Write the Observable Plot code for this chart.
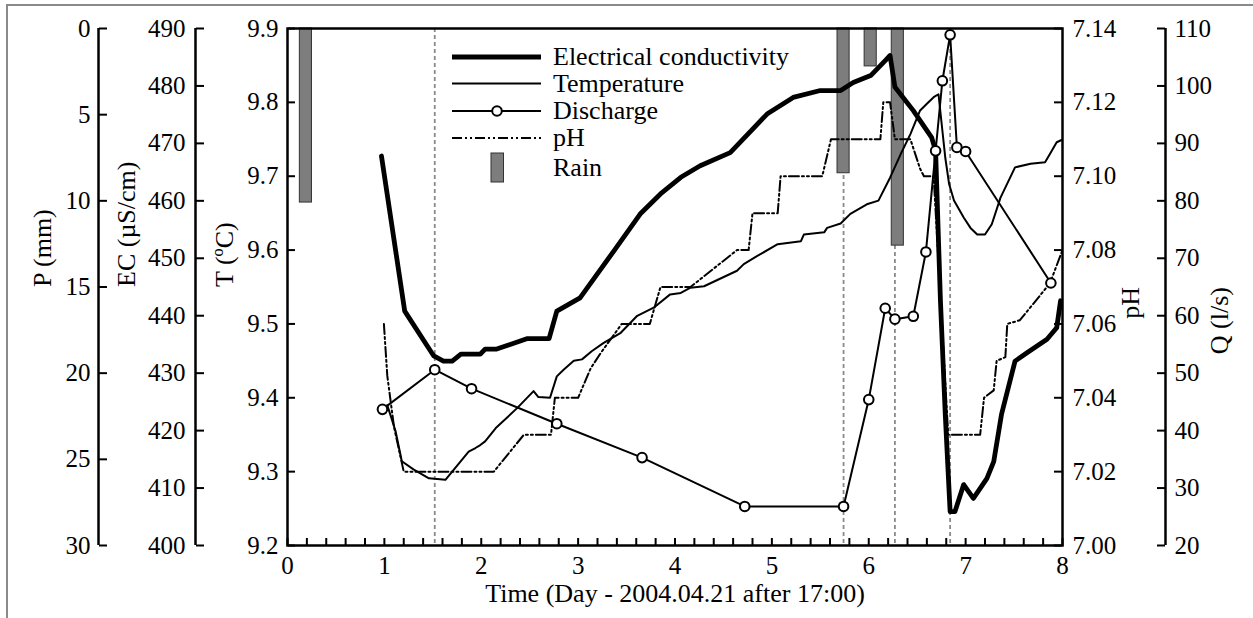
<!DOCTYPE html>
<html><head><meta charset="utf-8">
<script src="https://cdn.jsdelivr.net/npm/d3@7"></script>
<script src="https://cdn.jsdelivr.net/npm/@observablehq/plot@0.6"></script>
<style>
body{margin:0;background:#fff;overflow:hidden;}
#chart svg, #chart svg text{font-family:'Liberation Serif','Times New Roman',Times,serif !important;}
</style></head><body><div id="chart"></div>
<script>
// ---------- data ----------
const ecDays = [0.97,1.21,1.51,1.61,1.70,1.79,1.99,2.04,2.16,2.47,2.70,2.78,3.02,3.37,3.64,3.85,4.06,4.26,4.57,4.95,5.22,5.50,5.71,5.84,6.02,6.17,6.22,6.27,6.46,6.65,6.69,6.74,6.79,6.84,6.89,6.98,7.08,7.22,7.29,7.37,7.51,7.63,7.84,7.94,7.98];
const ecValues = [467.8,440.8,433.0,432.1,432.1,433.3,433.3,434.2,434.2,436.0,436.0,440.8,443.1,451.3,457.7,461.2,464.1,466.1,468.4,475.1,478.0,479.2,479.2,480.6,481.8,484.4,485.3,479.8,475.7,471.0,468.7,442.6,422.8,405.9,405.9,410.6,408.2,411.7,414.6,422.8,432.1,433.5,435.9,437.9,442.6];

const tDays = [1.03,1.115,1.18,1.30,1.46,1.63,1.87,1.94,1.99,2.04,2.15,2.37,2.54,2.59,2.71,2.78,2.85,2.955,3.04,3.14,3.26,3.44,3.61,3.78,3.95,4.06,4.16,4.30,4.64,4.71,4.85,5.06,5.30,5.33,5.54,5.57,5.71,5.81,5.98,6.10,6.22,6.33,6.43,6.53,6.60,6.67,6.72,6.79,6.83,6.88,6.98,7.05,7.12,7.20,7.27,7.36,7.51,7.67,7.82,7.87,7.94,7.99];
const tValues = [9.39,9.355,9.314,9.303,9.291,9.289,9.327,9.332,9.336,9.341,9.359,9.386,9.409,9.401,9.40,9.429,9.438,9.45,9.452,9.463,9.474,9.488,9.511,9.522,9.54,9.542,9.549,9.551,9.572,9.581,9.592,9.608,9.612,9.621,9.624,9.63,9.636,9.649,9.662,9.667,9.698,9.730,9.757,9.789,9.798,9.807,9.811,9.725,9.689,9.667,9.644,9.630,9.621,9.621,9.635,9.671,9.712,9.717,9.719,9.730,9.746,9.749];

const qDays = [0.98,1.52,1.90,2.78,3.66,4.72,5.74,6.00,6.17,6.27,6.46,6.59,6.69,6.76,6.84,6.91,7.00,7.88];
const qValues = [43.7,50.6,47.3,41.2,35.3,26.8,26.8,45.4,61.3,59.4,59.9,71.1,88.7,100.9,108.9,89.3,88.6,65.7];

const phDays = [0.995,1.03,1.10,1.20,2.13,2.44,2.72,2.76,3.00,3.13,3.23,3.45,3.74,3.85,4.16,4.64,4.76,4.80,5.06,5.09,5.52,5.61,6.12,6.15,6.22,6.27,6.43,6.53,6.57,6.67,6.82,7.15,7.19,7.29,7.32,7.41,7.43,7.56,7.87,8.0];
const phValues = [7.060,7.046,7.032,7.020,7.020,7.030,7.030,7.040,7.040,7.048,7.052,7.060,7.060,7.070,7.070,7.080,7.080,7.090,7.090,7.100,7.100,7.110,7.110,7.120,7.120,7.110,7.110,7.102,7.100,7.100,7.030,7.030,7.040,7.042,7.050,7.051,7.060,7.061,7.071,7.080];

const rainDays = [0.19,5.74,6.02,6.30];
const rainValues = [10.1,8.4,2.2,12.6];
const rainWidth = 0.125;

const eventDays = [1.52,5.74,6.27,6.84];

const tTicks = [9.2,9.3,9.4,9.5,9.6,9.7,9.8,9.9];
const ecTicks = [400,410,420,430,440,450,460,470,480,490];
const pTicks = [0,5,10,15,20,25,30];
const phTicks = [7.00,7.02,7.04,7.06,7.08,7.10,7.12,7.14];
const qTicks = [20,30,40,50,60,70,80,90,100,110];
const dayTicks = [0,1,2,3,4,5,6,7,8];
const dayMinorTicks = d3.range(0, 41).map(i => i / 5);

const legendItems = ["Electrical conductivity","Temperature","Discharge","pH","Rain"];

// ---------- mapping of secondary scales onto the temperature scale ----------
const ecToT = d3.scaleLinear([400, 490], [9.2, 9.9]);
const phToT = d3.scaleLinear([7.0, 7.14], [9.2, 9.9]);
const qToT = d3.scaleLinear([20, 110], [9.2, 9.9]);
const pToT = d3.scaleLinear([0, 30], [9.9, 9.2]);

const ec = ecDays.map((d, i) => ({day: d, v: ecToT(ecValues[i])}));
const temp = tDays.map((d, i) => ({day: d, v: tValues[i]}));
const q = qDays.map((d, i) => ({day: d, v: qToT(qValues[i])}));
const ph = phDays.map((d, i) => ({day: d, v: phToT(phValues[i])}));
const rain = rainDays.map((d, i) => ({day: d, p: rainValues[i]}));

const W = 1253, H = 618;
const mL = 287, mR = 191, mT = 28, mB = 73;
const plotW = W - mL - mR;
const FONT = "'Liberation Serif','Times New Roman',Times,serif";
const TICK_FS = 25, LABEL_FS = 26;

function tickAxis(vals, anchor, dx, len) {
  return Plot.axisY(vals, {anchor, dx, tickSize: len, tickFormat: () => "", label: null, strokeWidth: 2});
}
function textAxis(vals, anchor, dx, pad, fmt) {
  return Plot.axisY(vals, {anchor, dx, tickSize: 0, tickPadding: pad, tickFormat: fmt, label: null, fontSize: TICK_FS, fontFamily: FONT});
}

const svg = Plot.plot({
  width: W, height: H,
  marginLeft: mL, marginRight: mR, marginTop: mT, marginBottom: mB,
  style: {fontFamily: FONT, fontSize: TICK_FS + "px", background: "transparent", overflow: "visible"},
  x: {domain: [0, 8]},
  y: {domain: [9.2, 9.9]},
  marks: [
    // event lines
    Plot.ruleX(eventDays, {stroke: "#8a8a8a", strokeWidth: 1.8, strokeDasharray: "4,3"}),
    // rain bars (hanging from top)
    Plot.rectY(rain, {x1: d => d.day - rainWidth / 2, x2: d => d.day + rainWidth / 2, y1: pToT(0), y2: d => pToT(d.p), fill: "#7d7d7d", stroke: "#333", strokeWidth: 1}),
    // series
    Plot.line(temp, {x: "day", y: "v", stroke: "#000", strokeWidth: 2}),
    Plot.line(ph, {x: "day", y: "v", stroke: "#000", strokeWidth: 2, strokeDasharray: "10,3,2,3,2,3"}),
    Plot.line(q, {x: "day", y: "v", stroke: "#000", strokeWidth: 2}),
    Plot.line(ec, {x: "day", y: "v", stroke: "#000", strokeWidth: 4.8, strokeLinejoin: "round"}),
    Plot.dot(q, {x: "day", y: "v", r: 4.8, fill: "#fff", stroke: "#000", strokeWidth: 2}),
    // frame (T axis left, pH axis right)
    Plot.frame({stroke: "#000", strokeWidth: 2.5}),
    // extra axis lines
    Plot.ruleX([0], {y1: 9.2, y2: 9.9, dx: 98 - mL, strokeWidth: 2.5}),
    Plot.ruleX([0], {y1: 9.2, y2: 9.9, dx: 195 - mL, strokeWidth: 2.5}),
    Plot.ruleX([8], {y1: 9.2, y2: 9.9, dx: 1165 - (mL + plotW), strokeWidth: 2.5}),
    // P axis
    tickAxis(pTicks.map(pToT), "right", 98 - (mL + plotW), 8),
    textAxis(pTicks.map(pToT), "left", 98 - mL, 8, d => String(Math.round(pToT.invert(d)))),
    // EC axis
    tickAxis(ecTicks.map(ecToT), "right", 195 - (mL + plotW), 8),
    textAxis(ecTicks.map(ecToT), "left", 195 - mL, 10, d => String(Math.round(ecToT.invert(d)))),
    // T axis
    tickAxis(tTicks, "right", -plotW, 7),
    textAxis(tTicks, "left", 0, 9, d => d.toFixed(1)),
    // pH axis
    tickAxis(phTicks.map(phToT), "left", plotW, 8),
    textAxis(phTicks.map(phToT), "right", 0, 10, d => phToT.invert(d).toFixed(2)),
    // Q axis
    tickAxis(qTicks.map(qToT), "left", 1165 - mL, 8),
    textAxis(qTicks.map(qToT), "right", 1165 - (mL + plotW), 9, d => String(Math.round(qToT.invert(d)))),
    // x axis
    Plot.axisX(dayMinorTicks, {anchor: "top", dy: H - mT - mB, tickSize: 8, tickFormat: () => "", label: null, strokeWidth: 2}),
    Plot.axisX(dayTicks, {anchor: "bottom", tickSize: 0, tickPadding: 11, tickFormat: d => String(d), label: null, fontSize: TICK_FS, fontFamily: FONT}),
    // axis titles
    Plot.text(["P (mm)"], {frameAnchor: "left", dx: 42.5 - mL, rotate: -90, fontSize: LABEL_FS, fontFamily: FONT}),
    Plot.text(["EC (µS/cm)"], {frameAnchor: "left", dx: 126 - mL, rotate: -90, fontSize: LABEL_FS, fontFamily: FONT}),
    Plot.text(["T (ºC)"], {frameAnchor: "left", dx: 224 - mL, rotate: -90, fontSize: LABEL_FS, fontFamily: FONT}),
    Plot.text(["pH"], {frameAnchor: "right", dx: 1130.5 - (mL + plotW), rotate: -90, fontSize: LABEL_FS, fontFamily: FONT}),
    Plot.text(["Q (l/s)"], {frameAnchor: "right", dx: 1219 - (mL + plotW), rotate: -90, fontSize: LABEL_FS, fontFamily: FONT}),
    Plot.text(["Time (Day - 2004.04.21 after 17:00)"], {frameAnchor: "bottom", dy: 56, lineAnchor: "bottom", fontSize: LABEL_FS, fontFamily: FONT})
  ]
});

// outer gray border (top and left edges visible)
const s = d3.select(svg);
s.insert("path", ":first-child")
  .attr("d", "M7,618V5H1253")
  .attr("fill", "none").attr("stroke", "#8a8a8a").attr("stroke-width", 2);

// legend
const lg = s.append("g").attr("font-family", FONT).attr("font-size", LABEL_FS).attr("fill", "#000").attr("text-anchor", "start");
const rows = [57, 83.5, 111, 138, 167.5];
const x0 = 452, x1 = 541, tx = 553;
lg.append("line").attr("x1", x0).attr("x2", x1).attr("y1", rows[0]).attr("y2", rows[0]).attr("stroke", "#000").attr("stroke-width", 4.8);
lg.append("line").attr("x1", x0).attr("x2", x1).attr("y1", rows[1]).attr("y2", rows[1]).attr("stroke", "#000").attr("stroke-width", 2);
lg.append("line").attr("x1", x0).attr("x2", x1).attr("y1", rows[2]).attr("y2", rows[2]).attr("stroke", "#000").attr("stroke-width", 2);
lg.append("circle").attr("cx", 497).attr("cy", rows[2]).attr("r", 4.8).attr("fill", "#fff").attr("stroke", "#000").attr("stroke-width", 2);
lg.append("line").attr("x1", x0).attr("x2", x1).attr("y1", rows[3]).attr("y2", rows[3]).attr("stroke", "#000").attr("stroke-width", 2).attr("stroke-dasharray", "10,3,2,3,2,3");
lg.append("rect").attr("x", 491).attr("y", 153).attr("width", 12.5).attr("height", 29).attr("fill", "#7d7d7d").attr("stroke", "#333").attr("stroke-width", 1);
legendItems.forEach((t, i) => {
  lg.append("text").attr("x", tx).attr("y", rows[i]).attr("dy", "0.32em").attr("text-anchor", "start").text(t);
});

document.getElementById("chart").appendChild(svg);
</script>
</body></html>
